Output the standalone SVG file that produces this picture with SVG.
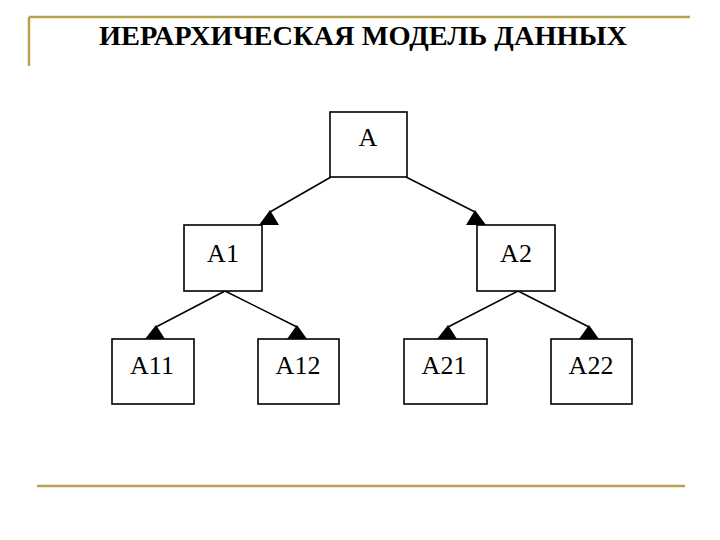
<svg xmlns="http://www.w3.org/2000/svg" width="720" height="540" viewBox="0 0 720 540">
<style>
.frame{stroke:#b9a24c;stroke-width:2.5;fill:none}
.box{fill:#ffffff;stroke:#000;stroke-width:1.6}
.lbl{font-family:"Liberation Serif","Times New Roman",serif;font-size:26px;fill:#000;text-anchor:middle}
.title{font-family:"Liberation Serif","Times New Roman",serif;font-size:27px;font-weight:bold;fill:#000}
.edge{stroke:#000;stroke-width:1.5;fill:none}
.head{fill:#000;stroke:none}
</style>
<rect width="720" height="540" fill="#ffffff"/>
<g id="frame">
<line class="frame" x1="29" y1="17" x2="690" y2="17"/>
<line class="frame" x1="29" y1="17" x2="29" y2="66"/>
<line class="frame" x1="37" y1="486" x2="685" y2="486"/>
</g>
<text class="title" x="99" y="45" textLength="528" lengthAdjust="spacingAndGlyphs">ИЕРАРХИЧЕСКАЯ МОДЕЛЬ ДАННЫХ</text>
<g id="connectors">
<line class="edge" x1="331" y1="177" x2="270" y2="212"/>
<polygon class="head" points="270,210 259,225 279,225"/>
<line class="edge" x1="406" y1="177" x2="475" y2="212"/>
<polygon class="head" points="475,210 466,225 486,225"/>
<line class="edge" x1="225" y1="291" x2="156" y2="327"/>
<polygon class="head" points="156,325 145,339 165,339"/>
<line class="edge" x1="225" y1="291" x2="297" y2="327"/>
<polygon class="head" points="297,325 287,339 307,339"/>
<line class="edge" x1="518" y1="291" x2="448" y2="327"/>
<polygon class="head" points="448,325 437,339 457,339"/>
<line class="edge" x1="518" y1="291" x2="589" y2="327"/>
<polygon class="head" points="589,325 579,339 599,339"/>
</g>
<g id="node-A">
<rect class="box" x="330" y="112" width="77" height="65"/>
<text class="lbl" x="368" y="146">A</text>
</g>
<g id="node-A1">
<rect class="box" x="184" y="225" width="78" height="66"/>
<text class="lbl" x="223" y="262">A1</text>
</g>
<g id="node-A2">
<rect class="box" x="477" y="225" width="78" height="66"/>
<text class="lbl" x="516" y="262">A2</text>
</g>
<g id="node-A11">
<rect class="box" x="112" y="339" width="82" height="65"/>
<text class="lbl" x="152" y="374">A11</text>
</g>
<g id="node-A12">
<rect class="box" x="258" y="339" width="81" height="65"/>
<text class="lbl" x="298" y="374">A12</text>
</g>
<g id="node-A21">
<rect class="box" x="404" y="339" width="83" height="65"/>
<text class="lbl" x="444" y="374">A21</text>
</g>
<g id="node-A22">
<rect class="box" x="551" y="339" width="81" height="65"/>
<text class="lbl" x="591" y="374">A22</text>
</g>
</svg>
